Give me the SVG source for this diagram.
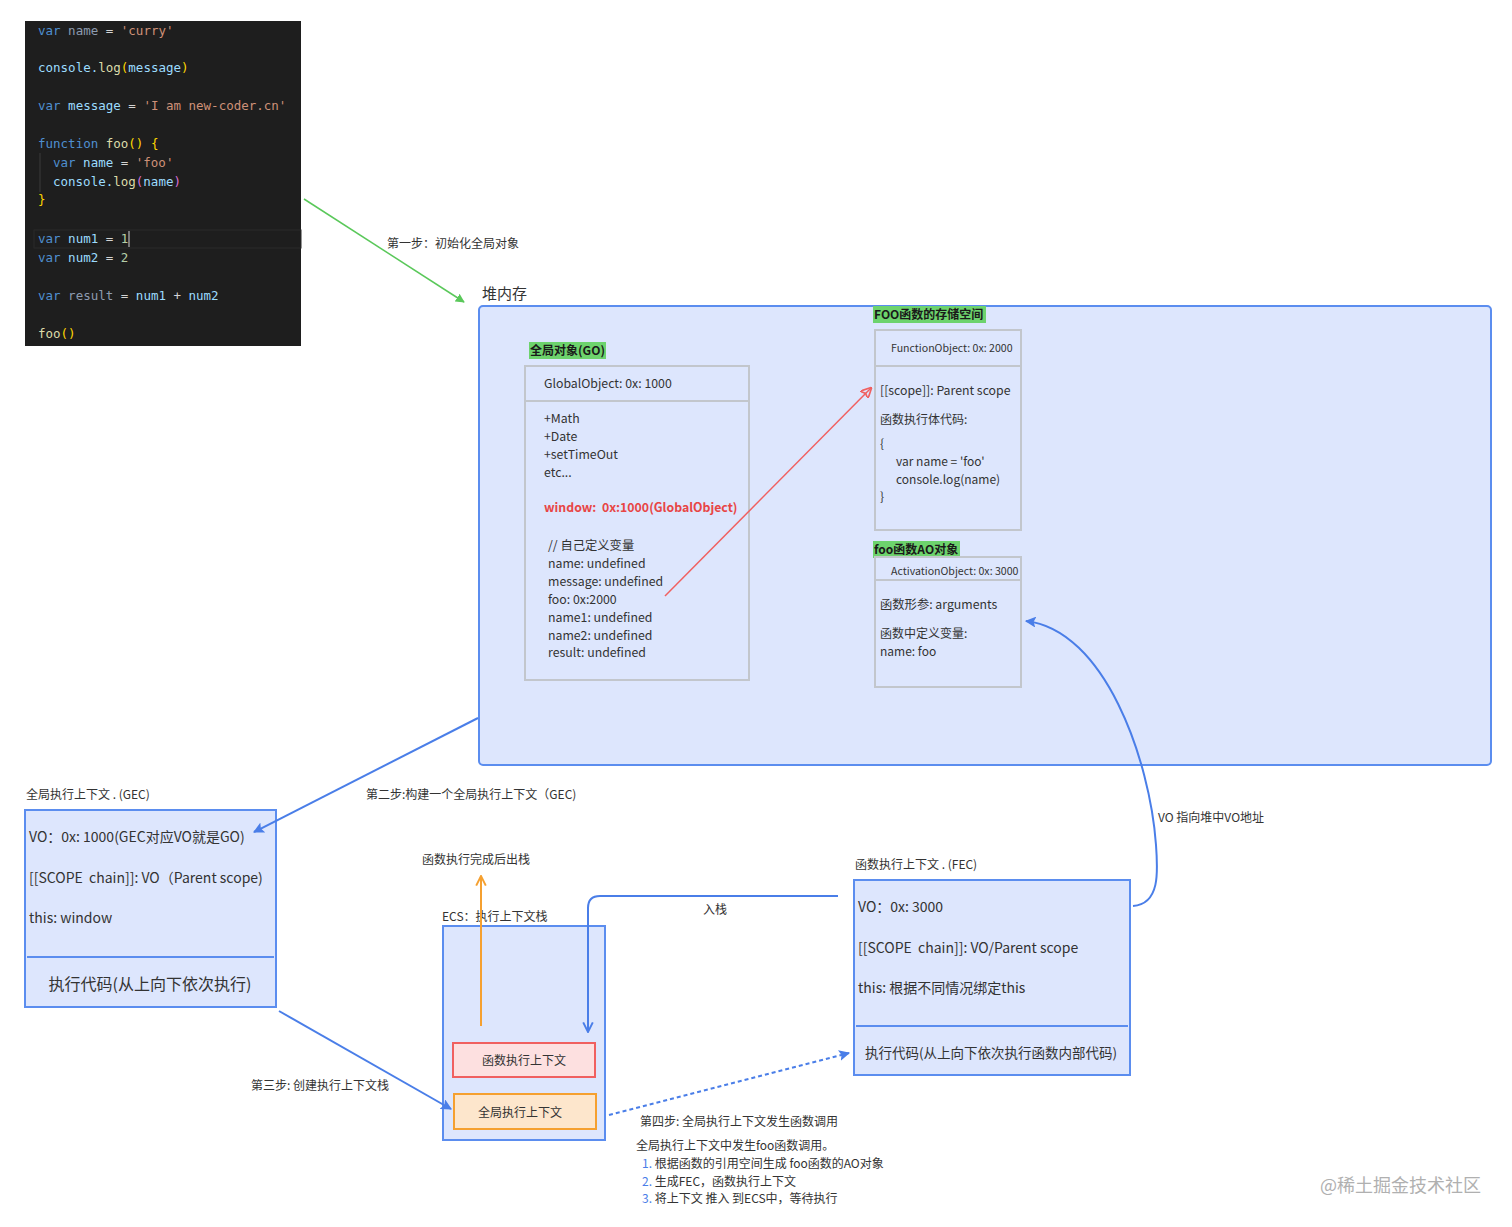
<svg xmlns="http://www.w3.org/2000/svg" width="1512" height="1227" viewBox="0 0 1512 1227">
<defs>
<style>
.t{font-family:"Noto Sans CJK SC","Noto Sans",sans-serif;fill:#333;white-space:pre;}
.s12{font-size:12px;}
.s13{font-size:12.3px;}
.s14{font-size:14px;}
.code{font-family:"DejaVu Sans Mono","Liberation Mono",monospace;font-size:12.5px;fill:#9cdcfe;}
.kw{fill:#4f8fd0;}
.str{fill:#ce9178;}
.fn{fill:#dcdcaa;}
.br{fill:#ffd700;}
.pu{fill:#da70d6;}
.num{fill:#b5cea8;}
.dim{fill:#8d9bb0;}
.wh{fill:#d4d4d4;}
.obj{fill:none;stroke:#c2c6cc;stroke-width:2;}
.ctx{fill:#dde6fd;stroke:#5b8def;stroke-width:2;}
.lab{fill:#6dd36d;}
.lbt{font-family:"Noto Sans CJK SC",sans-serif;font-size:12px;font-weight:bold;fill:#1a1a1a;}
.blue{fill:#4a7ee8;}
</style>
<marker id="ag" viewBox="0 0 10 10" refX="9" refY="5" markerWidth="9" markerHeight="9" orient="auto-start-reverse" markerUnits="userSpaceOnUse"><path d="M0,0 L10,5 L0,10 Z" fill="#5ac85a"/></marker>
<marker id="ab" viewBox="0 0 10 10" refX="9" refY="5" markerWidth="11" markerHeight="11" orient="auto" markerUnits="userSpaceOnUse"><path d="M0,0 L10,5 L0,10 L2,5 Z" fill="#4a7ee8"/></marker>
<marker id="ar" viewBox="0 0 10 10" refX="9" refY="5" markerWidth="11" markerHeight="11" orient="auto" markerUnits="userSpaceOnUse"><path d="M0,0 L10,5 L0,10 L2,5 Z" fill="none" stroke="#f06060" stroke-width="1.5"/></marker>
<marker id="ao" viewBox="0 0 10 10" refX="9" refY="5" markerWidth="12" markerHeight="12" orient="auto" markerUnits="userSpaceOnUse"><path d="M1,1 L9,5 L1,9" fill="none" stroke="#f5a030" stroke-width="1.6"/></marker>
<marker id="abo" viewBox="0 0 10 10" refX="9" refY="5" markerWidth="12" markerHeight="12" orient="auto" markerUnits="userSpaceOnUse"><path d="M1,1 L9,5 L1,9" fill="none" stroke="#4a7ee8" stroke-width="1.6"/></marker>
</defs>
<rect width="1512" height="1227" fill="#ffffff"/>

<g id="code">
<rect x="25" y="21" width="276" height="325" fill="#1e1e1e"/>
<rect x="34" y="230" width="267" height="18" fill="none" stroke="#2a2a2a" stroke-width="1"/>
<line x1="40" y1="153" x2="40" y2="192" stroke="#3a3a3a"/>
<text class="code" x="38" y="35"><tspan class="kw">var</tspan> <tspan class="dim">name</tspan> <tspan class="wh">=</tspan> <tspan class="str">'curry'</tspan></text>
<text class="code" x="38" y="72">console.<tspan class="fn">log</tspan><tspan class="br">(</tspan>message<tspan class="br">)</tspan></text>
<text class="code" x="38" y="110"><tspan class="kw">var</tspan> message <tspan class="wh">=</tspan> <tspan class="str">'I am new-coder.cn'</tspan></text>
<text class="code" x="38" y="148"><tspan class="kw">function</tspan> <tspan class="fn">foo</tspan><tspan class="br">() {</tspan></text>
<text class="code" x="53" y="167"><tspan class="kw">var</tspan> name <tspan class="wh">=</tspan> <tspan class="str">'foo'</tspan></text>
<text class="code" x="53" y="186">console.<tspan class="fn">log</tspan><tspan class="pu">(</tspan>name<tspan class="pu">)</tspan></text>
<text class="code" x="38" y="204"><tspan class="br">}</tspan></text>
<text class="code" x="38" y="243"><tspan class="kw">var</tspan> num1 <tspan class="wh">=</tspan> <tspan class="num">1</tspan></text>
<line x1="129" y1="231" x2="129" y2="247" stroke="#d4d4d4" stroke-width="1"/>
<text class="code" x="38" y="262"><tspan class="kw">var</tspan> num2 <tspan class="wh">=</tspan> <tspan class="num">2</tspan></text>
<text class="code" x="38" y="300"><tspan class="kw">var</tspan> <tspan class="dim">result</tspan> <tspan class="wh">=</tspan> num1 <tspan class="wh">+</tspan> num2</text>
<text class="code" x="38" y="338"><tspan class="fn">foo</tspan><tspan class="br">()</tspan></text>
</g>

<g id="heap">
<text class="t" x="482" y="299" font-size="15">堆内存</text>
<rect x="479" y="306" width="1012" height="459" rx="4" fill="#dde6fd" stroke="#5b8def" stroke-width="2"/>
</g>

<g id="go">
<rect class="lab" x="529" y="342" width="77" height="17"/>
<text class="lbt" x="530" y="355">全局对象(GO)</text>
<rect class="obj" x="525" y="366" width="224" height="314"/>
<line x1="526" y1="401" x2="748" y2="401" stroke="#c2c6cc" stroke-width="2"/>
<text class="t s13" x="544" y="388">GlobalObject: 0x: 1000</text>
<text class="t s13" x="544" y="423">+Math</text>
<text class="t s13" x="544" y="441">+Date</text>
<text class="t s13" x="544" y="459">+setTimeOut</text>
<text class="t s13" x="544" y="477">etc...</text>
<text class="t s13" x="544" y="512" font-weight="bold" style="fill:#e84545">window:  0x:1000(GlobalObject)</text>
<text class="t s13" x="548" y="550">// 自己定义变量</text>
<text class="t s13" x="548" y="568">name: undefined</text>
<text class="t s13" x="548" y="586">message: undefined</text>
<text class="t s13" x="548" y="604">foo: 0x:2000</text>
<text class="t s13" x="548" y="622">name1: undefined</text>
<text class="t s13" x="548" y="640">name2: undefined</text>
<text class="t s13" x="548" y="657">result: undefined</text>
</g>

<g id="foo-fn">
<rect class="lab" x="873" y="306" width="113" height="17"/>
<text class="lbt" x="874" y="319">FOO函数的存储空间</text>
<rect class="obj" x="875" y="330" width="146" height="200"/>
<line x1="876" y1="366" x2="1020" y2="366" stroke="#c2c6cc" stroke-width="2"/>
<text class="t" x="891" y="352" font-size="10.6">FunctionObject: 0x: 2000</text>
<text class="t s13" x="880" y="395">[[scope]]: Parent scope</text>
<text class="t s12" x="880" y="424">函数执行体代码:</text>
<text class="t s12" x="880" y="448">{</text>
<text class="t s12" x="896" y="466">var name = 'foo'</text>
<text class="t s12" x="896" y="484">console.log(name)</text>
<text class="t s12" x="880" y="501">}</text>
</g>

<g id="foo-ao">
<rect class="lab" x="873" y="541" width="87" height="17"/>
<text class="lbt" x="874" y="554">foo函数AO对象</text>
<rect class="obj" x="875" y="557" width="146" height="130"/>
<line x1="876" y1="580" x2="1020" y2="580" stroke="#c2c6cc" stroke-width="2"/>
<text class="t" x="891" y="575" font-size="10.6">ActivationObject: 0x: 3000</text>
<text class="t s13" x="880" y="609">函数形参: arguments</text>
<text class="t s12" x="880" y="638">函数中定义变量:</text>
<text class="t s12" x="880" y="656">name: foo</text>
</g>

<g id="gec">
<text class="t s12" x="26" y="799">全局执行上下文 . (GEC)</text>
<rect class="ctx" x="25" y="810" width="251" height="197"/>
<line x1="27" y1="957" x2="274" y2="957" stroke="#5b8def" stroke-width="2"/>
<text class="t s14" x="29" y="842">VO：0x: 1000(GEC对应VO就是GO)</text>
<text class="t s14" x="29" y="883">[[SCOPE  chain]]: VO（Parent scope)</text>
<text class="t s14" x="29" y="923">this: window</text>
<text class="t" x="150" y="990" font-size="16" text-anchor="middle">执行代码(从上向下依次执行)</text>
</g>

<g id="ecs">
<text class="t s12" x="442" y="921">ECS：执行上下文栈</text>
<rect class="ctx" x="443" y="926" width="162" height="214"/>
<rect x="453" y="1043" width="142" height="34" fill="#fde0e0" stroke="#f06060" stroke-width="2"/>
<text class="t s12" x="524" y="1065" text-anchor="middle">函数执行上下文</text>
<rect x="454" y="1094" width="142" height="35" fill="#fde6cc" stroke="#f5a030" stroke-width="2"/>
<text class="t s12" x="520" y="1117" text-anchor="middle">全局执行上下文</text>
</g>

<g id="fec">
<text class="t s12" x="855" y="869">函数执行上下文 . (FEC)</text>
<rect class="ctx" x="854" y="880" width="276" height="195"/>
<line x1="856" y1="1026" x2="1128" y2="1026" stroke="#5b8def" stroke-width="2"/>
<text class="t s14" x="858" y="912">VO：0x: 3000</text>
<text class="t s14" x="858" y="953">[[SCOPE  chain]]: VO/Parent scope</text>
<text class="t s14" x="858" y="993">this: 根据不同情况绑定this</text>
<text class="t" x="991" y="1058" font-size="13.5" text-anchor="middle">执行代码(从上向下依次执行函数内部代码)</text>
</g>

<g id="connectors" fill="none">
<line x1="304" y1="199" x2="464" y2="302" stroke="#5ac85a" stroke-width="1.5" marker-end="url(#ag)"/>
<line x1="665" y1="596" x2="871" y2="388" stroke="#f06060" stroke-width="1.5" marker-end="url(#ar)"/>
<line x1="478" y1="718" x2="254" y2="832" stroke="#4a7ee8" stroke-width="2" marker-end="url(#ab)"/>
<line x1="279" y1="1011" x2="451" y2="1109" stroke="#4a7ee8" stroke-width="2" marker-end="url(#ab)"/>
<line x1="481" y1="1026" x2="481" y2="876" stroke="#f5a030" stroke-width="2" marker-end="url(#ao)"/>
<path d="M838,896 L600,896 Q588,896 588,908 L588,1032" stroke="#4a7ee8" stroke-width="2" marker-end="url(#abo)"/>
<line x1="609" y1="1115" x2="849" y2="1053" stroke="#4a7ee8" stroke-width="2" stroke-dasharray="4,3" marker-end="url(#ab)"/>
<path d="M1133,906 C1160,904 1158,872 1156,845 C1150,760 1105,630 1026,621" stroke="#4a7ee8" stroke-width="2" marker-end="url(#ab)"/>
</g>

<g id="labels">
<text class="t s12" x="387" y="248">第一步：初始化全局对象</text>
<text class="t s12" x="366" y="799">第二步:构建一个全局执行上下文（GEC)</text>
<text class="t s12" x="251" y="1090">第三步: 创建执行上下文栈</text>
<text class="t s12" x="422" y="864">函数执行完成后出栈</text>
<text class="t s12" x="703" y="914">入栈</text>
<text class="t s12" x="1158" y="822">VO 指向堆中VO地址</text>
<text class="t s12" x="640" y="1126">第四步: 全局执行上下文发生函数调用</text>
<text class="t s12" x="636" y="1150">全局执行上下文中发生foo函数调用。</text>
<text class="t s12" x="642" y="1168"><tspan class="blue">1.</tspan> 根据函数的引用空间生成 foo函数的AO对象</text>
<text class="t s12" x="642" y="1186"><tspan class="blue">2.</tspan> 生成FEC，函数执行上下文</text>
<text class="t s12" x="642" y="1203"><tspan class="blue">3.</tspan> 将上下文 推入 到ECS中，等待执行</text>
<text class="t" x="1320" y="1192" font-size="18" style="fill:#b0b0b0">@稀土掘金技术社区</text>
</g>
</svg>
